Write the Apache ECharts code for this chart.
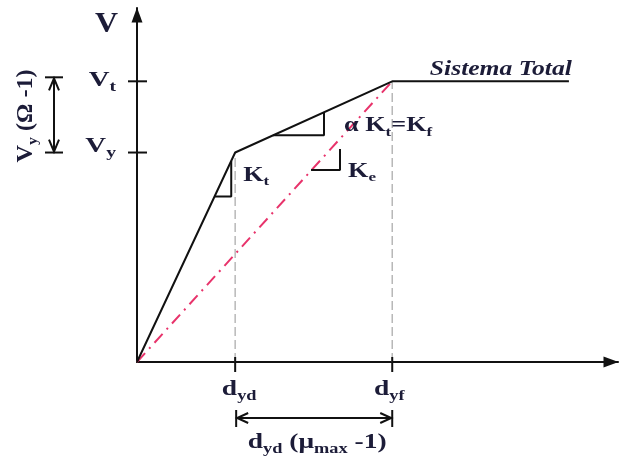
<!DOCTYPE html>
<html>
<head>
<meta charset="utf-8">
<script src="https://cdn.jsdelivr.net/npm/echarts@6/dist/echarts.min.js"></script>
<style>
  html, body { margin: 0; padding: 0; background: #fff; }
  #chart { width: 621px; height: 456px; }
</style>
</head>
<body>
<div id="chart"></div>
<script>
// Idealised bilinear capacity curve (base shear V vs. displacement d)
const dispValues = [1.0, 2.6];            // d_yd, d_yf
const dispLabels = ['d_{yd}', 'd_{yf}'];
const forceValues = [1.0, 1.34];          // V_y, V_t
const forceLabels = ['V_{y}', 'V_{t}'];
const axisMax = [4.9, 1.69];

const totalCurveX = [0, 1.0, 2.6, 4.4];
const totalCurveY = [0, 1.0, 1.34, 1.34];
const secantX = [0, 2.6];
const secantY = [0, 1.34];

// slope markers
const ktTriX = [0.79, 0.96, 0.96];
const ktTriY = [0.79, 0.79, 0.96];
const kfTriX = [1.385, 1.905, 1.905];
const kfTriY = [1.083, 1.083, 1.19];
const keTriX = [1.773, 2.068, 2.068];
const keTriY = [0.917, 0.917, 1.017];

const axisName = 'V';
const curveName = 'Sistema Total';
const ktLabel = 'K_{t}';
const kfLabel = 'α K_{t}=K_{f}';
const keLabel = 'K_{e}';
const ductLabel = 'd_{yd} (μ_{max} -1)';
const overLabel = 'V_{y} (Ω -1)';

const INK = '#1c1c38';
const LINE = '#111';
const FONT = '"Liberation Serif", "Times New Roman", serif';
const WIDE = 1.31;   // horizontal stretch of the lettering

const zip = (xs, ys) => xs.map((x, i) => [x, ys[i]]);

const mctx = document.createElement('canvas').getContext('2d');
function measure(str, font) { mctx.font = font; return mctx.measureText(str).width; }

function parse(s) {
  const out = []; const re = /_\{([^}]*)\}/g; let last = 0, m;
  while ((m = re.exec(s))) {
    if (m.index > last) out.push([s.slice(last, m.index), false]);
    out.push([m[1], true]);
    last = re.lastIndex;
  }
  if (last < s.length) out.push([s.slice(last), false]);
  return out;
}

// text with subscripts; y is the centre of the capitals
function run(x, y, str, size, align, opts) {
  opts = opts || {};
  const style = opts.style || 'bold';
  const subSize = Math.round(size * 0.66);
  const ps = parse(str);
  const fonts = ps.map(p => style + ' ' + (p[1] ? subSize : size) + 'px ' + FONT);
  const widths = ps.map((p, i) => measure(p[0], fonts[i]));
  const total = widths.reduce((a, b) => a + b, 0);
  let cx = align === 'center' ? -total / 2 : align === 'right' ? -total : 0;
  const base = size * 0.33;
  const children = ps.map((p, i) => {
    const cy = p[1] ? base + size * 0.2 - subSize * 0.33 : 0;
    const el = {
      type: 'text', x: cx, y: cy,
      style: { text: p[0], font: fonts[i], fill: INK,
               align: 'left', textAlign: 'left',
               verticalAlign: 'middle', textVerticalAlign: 'middle' }
    };
    cx += widths[i];
    return el;
  });
  return { type: 'group', x: x, y: y, rotation: opts.rotation || 0,
           scaleX: opts.scaleX == null ? WIDE : opts.scaleX, children: children };
}

function seg(x1, y1, x2, y2) {
  return { type: 'line', shape: { x1, y1, x2, y2 }, style: { stroke: LINE, lineWidth: 2 } };
}
function poly(points) {
  return { type: 'polyline', shape: { points }, style: { stroke: LINE, lineWidth: 2, fill: null } };
}

function renderAnnotations(params, api) {
  const o = api.coord([0, 0]);
  const P = (x, y) => api.coord([x, y]);
  const kids = [];

  // x-axis ticks and labels
  const xLabelShift = [4, -3];
  dispValues.forEach((v, i) => {
    const x = P(v, 0)[0];
    kids.push(seg(x, o[1] - 5, x, o[1] + 10));
    kids.push(run(x + xLabelShift[i], o[1] + 28, dispLabels[i], 21, 'center'));
  });
  // y-axis ticks and labels
  const yLabelShift = [-6, -1];
  forceValues.forEach((v, i) => {
    const y = P(0, v)[1];
    kids.push(seg(o[0] - 9, y, o[0] + 10, y));
    kids.push(run(o[0] - 21, y + yLabelShift[i], forceLabels[i], 22, 'right'));
  });
  // axis name
  const top = P(0, axisMax[1]);
  kids.push(run(top[0] - 19, top[1] + 17, axisName, 29, 'right', { scaleX: 1.1 }));

  // curve name
  const end = P(totalCurveX[3], totalCurveY[3]);
  kids.push(run(end[0] + 3, end[1] - 12, curveName, 21, 'right', { style: 'italic bold', scaleX: 1.22 }));

  // slope labels
  const kt = P(ktTriX[1], ktTriY[1]);
  kids.push(run(kt[0] + 12, kt[1] - 21, ktLabel, 20, 'left'));
  const kf = P(kfTriX[1], kfTriY[1]);
  kids.push(run(kf[0] + 20, kf[1] - 9, kfLabel, 20, 'left'));
  const ke = P(keTriX[1], keTriY[1]);
  kids.push(run(ke[0] + 8, ke[1] + 1.5, keLabel, 20, 'left'));

  // ductility dimension below the x-axis
  const xa = P(dispValues[0], 0)[0] + 1, xb = P(dispValues[1], 0)[0];
  const yd = o[1] + 56;
  kids.push(seg(xa, yd, xb, yd));
  kids.push(seg(xa, yd - 8, xa, yd + 9));
  kids.push(seg(xb, yd - 8, xb, yd + 9));
  kids.push(poly([[xa + 12, yd - 5], [xa + 1, yd], [xa + 12, yd + 5]]));
  kids.push(poly([[xb - 12, yd - 5], [xb - 1, yd], [xb - 12, yd + 5]]));
  kids.push(run((xa + xb) / 2 + 3, yd + 25, ductLabel, 21, 'center'));

  // overstrength dimension left of the y-axis
  const ya = P(0, forceValues[0])[1], yb = P(0, forceValues[1])[1] - 4;
  const xd = o[0] - 83;
  kids.push(seg(xd, ya, xd, yb));
  kids.push(seg(xd - 9, ya, xd + 9, ya));
  kids.push(seg(xd - 9, yb, xd + 9, yb));
  kids.push(poly([[xd - 5, ya - 13], [xd, ya - 1], [xd + 5, ya - 13]]));
  kids.push(poly([[xd - 5, yb + 13], [xd, yb + 1], [xd + 5, yb + 13]]));
  kids.push(run(o[0] - 111, (ya + yb) / 2 + 1, overLabel, 23, 'center',
                { rotation: Math.PI / 2, scaleX: 1.05 }));

  return { type: 'group', children: kids };
}

const axisCommon = {
  type: 'value', min: 0,
  axisTick: { show: false }, axisLabel: { show: false }, splitLine: { show: false },
  axisLine: {
    show: true, onZero: false,
    symbol: ['none', 'triangle'], symbolSize: [11, 15], symbolOffset: [0, -7],
    lineStyle: { color: LINE, width: 2 }
  }
};

const lineSeries = (data, style, z) => ({
  type: 'line', data, symbol: 'none', silent: true, z: z || 3,
  lineStyle: style, animation: false
});

const chart = echarts.init(document.getElementById('chart'), null, { renderer: 'canvas' });
chart.setOption({
  animation: false,
  backgroundColor: '#fff',
  grid: { left: 137, right: 3, top: 8, bottom: 94 },
  xAxis: Object.assign({}, axisCommon, { max: axisMax[0] }),
  yAxis: Object.assign({}, axisCommon, { max: axisMax[1] }),
  series: [
    lineSeries([[dispValues[0], 0], [dispValues[0], totalCurveY[1]]], { color: '#b8b8b8', width: 1.5, type: [9, 4] }, 1),
    lineSeries([[dispValues[1], 0], [dispValues[1], totalCurveY[2]]], { color: '#b8b8b8', width: 1.5, type: [9, 4] }, 1),
    lineSeries(zip(secantX, secantY), { color: '#e8336b', width: 2, type: [12, 6, 2, 6] }, 2),
    lineSeries(zip(totalCurveX, totalCurveY), { color: LINE, width: 2 }, 4),
    lineSeries(zip(ktTriX, ktTriY), { color: LINE, width: 2 }, 4),
    lineSeries(zip(kfTriX, kfTriY), { color: LINE, width: 2 }, 4),
    lineSeries(zip(keTriX, keTriY), { color: LINE, width: 2 }, 4),
    { type: 'custom', data: [[0, 0]], renderItem: renderAnnotations, silent: true, z: 5, clip: false }
  ]
});
</script>
</body>
</html>
